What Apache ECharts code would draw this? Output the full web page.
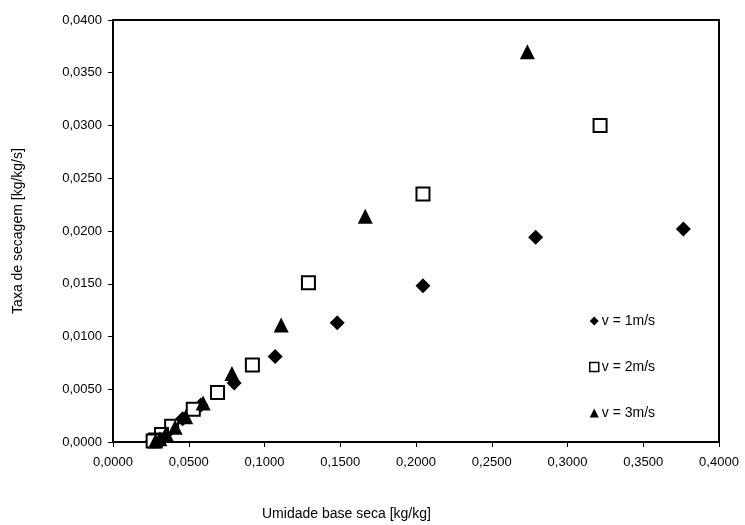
<!DOCTYPE html>
<html><head><meta charset="utf-8">
<script src="https://cdn.jsdelivr.net/npm/echarts@6/dist/echarts.min.js"></script>
<style>html,body{margin:0;padding:0;background:#fff}#c{width:745px;height:525px}</style>
</head><body><div id="c"></div>
<script>
var seriesNames = ['v = 1m/s', 'v = 2m/s', 'v = 3m/s'];
var v1 = [[0.3765,0.0202],[0.2790,0.0194],[0.2046,0.0148],[0.1480,0.0113],[0.1070,0.0081],[0.0800,0.0056],[0.0580,0.0035],[0.0460,0.0022],[0.0365,0.0010],[0.0310,0.0004],[0.0260,0.0001]];
var v2 = [[0.3215,0.0300],[0.2046,0.0235],[0.1290,0.0151],[0.0920,0.0073],[0.0690,0.0047],[0.0530,0.0031],[0.0387,0.0015],[0.0320,0.0007],[0.0280,0.0002],[0.0265,0.0001]];
var v3 = [[0.2735,0.0370],[0.1665,0.0214],[0.1110,0.0111],[0.0785,0.0065],[0.0595,0.0037],[0.0480,0.0024],[0.0410,0.0014],[0.0350,0.0008],[0.0310,0.0003],[0.0280,0.0001]];
var xTicks = [0,0.05,0.1,0.15,0.2,0.25,0.3,0.35,0.4];
var yTicks = [0,0.005,0.01,0.015,0.02,0.025,0.03,0.035,0.04];
function fmt(v){ return v.toFixed(4).replace('.', ','); }
var font = 'Liberation Sans, Arial, sans-serif';
var chart = echarts.init(document.getElementById('c'), null, {renderer:'canvas'});
chart.setOption({
  animation: false,
  backgroundColor: '#fff',
  grid: {left:113, right:26, top:20, bottom:83, show:true, borderColor:'#000', borderWidth:2},
  xAxis: {type:'value', min:xTicks[0], max:xTicks[xTicks.length-1], interval:xTicks[1]-xTicks[0],
    axisLine:{show:true, onZero:false, lineStyle:{color:'#000', width:2}},
    axisTick:{show:true, inside:false, length:5, lineStyle:{color:'#000'}},
    axisLabel:{formatter:fmt, color:'#000', fontFamily:font, fontSize:13, margin:14},
    splitLine:{show:false}},
  yAxis: {type:'value', min:yTicks[0], max:yTicks[yTicks.length-1], interval:yTicks[1]-yTicks[0],
    name:'Taxa de secagem [kg/kg/s]', nameLocation:'middle', nameGap:88,
    nameTextStyle:{color:'#000', fontFamily:font, fontSize:14},
    axisLine:{show:true, onZero:false, lineStyle:{color:'#000', width:2}},
    axisTick:{show:true, inside:false, length:5, lineStyle:{color:'#000'}},
    axisLabel:{formatter:fmt, color:'#000', fontFamily:font, fontSize:13, margin:11},
    splitLine:{show:false}},
  legend: {orient:'vertical', left:584, top:309, itemGap:32, itemWidth:9, itemHeight:9,
    textStyle:{color:'#000', fontFamily:font, fontSize:14, padding:[0,0,0,-2]},
    data:[
      {name:seriesNames[0], icon:'diamond', itemStyle:{color:'#000'}},
      {name:seriesNames[1], icon:'rect', itemStyle:{color:'#fff', borderColor:'#000', borderWidth:1.5}},
      {name:seriesNames[2], icon:'triangle', itemStyle:{color:'#000'}}
    ]},
  graphic: [{type:'text', left:262, top:507, style:{text:'Umidade base seca [kg/kg]', fill:'#000', font:'14px Liberation Sans, Arial, sans-serif'}}],
  series: [
    {name:seriesNames[0], type:'scatter', data:v1, symbol:'diamond', symbolSize:15, itemStyle:{color:'#000', opacity:1}},
    {name:seriesNames[1], type:'scatter', data:v2, symbol:'rect', symbolSize:13, itemStyle:{color:'#fff', borderColor:'#000', borderWidth:2, opacity:1}},
    {name:seriesNames[2], type:'scatter', data:v3, symbol:'triangle', symbolSize:15, itemStyle:{color:'#000', opacity:1}}
  ]
});
</script></body></html>
